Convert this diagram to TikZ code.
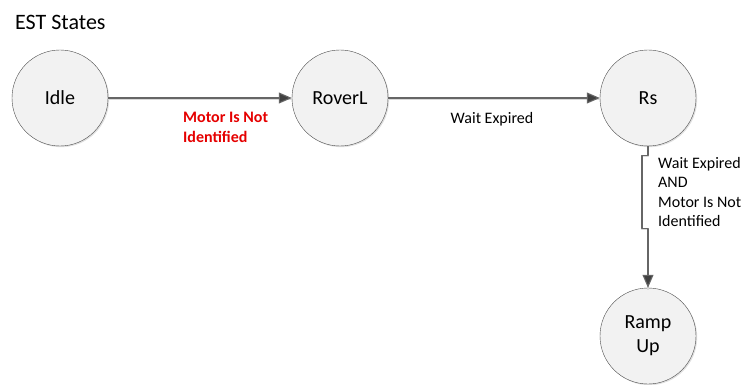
\documentclass[tikz,border=0pt]{standalone}
\usepackage{fontspec}
\setmainfont{Carlito}
\usetikzlibrary{arrows.meta,positioning,shadows}
\tikzset{
  every picture/.append style={line cap=round,line join=round},
  est state/.style={circle,draw=black!70,fill=black!5,minimum size=96pt,inner sep=0pt,
    align=center,font=\fontsize{20}{24}\selectfont,
    drop shadow={opacity=0.25,shadow xshift=1.2pt,shadow yshift=-1.2pt}},
  est move/.style={draw=black!60,line width=1.1pt,-{Triangle[length=13pt,width=11pt,fill=black!75]},
    preaction={draw=black!15,-,line width=1.1pt,transform canvas={yshift=-1.6pt}}},
  est note/.style={inner sep=0pt,align=left,font=\fontsize{16}{19.5}\selectfont},
  est alert/.style={est note,text=red!90!black,font=\fontsize{16}{20}\selectfont\bfseries}
}
\begin{document}
\begin{tikzpicture}[x=1pt,y=-1pt]
  \useasboundingbox (0,0) rectangle (745,385);
  \node[anchor=west,inner sep=0pt,font=\fontsize{22}{26}\selectfont] (title) at (15,22) {EST States};

  % states
  \node[est state] (idle) at (60,98) {Idle};
  \node[est state] (roverl) at (340,98) {RoverL};
  \node[est state] (rs) at (648,98) {Rs};
  \node[est state] (ramp) at (648,336) {Ramp\\Up};

  % transitions
  \draw[est move] (idle) -- (roverl);
  \draw[est move] (roverl) -- (rs);
  \draw[est move] (rs.south) -- ++(0,9) -- ++(-6,0) -- ++(0,73) -- ++(6,0) -- (ramp.north);

  \node[est alert,anchor=north west] (motor) at (183,112) {Motor Is Not\\Identified};
  \node[est note] (wait) at (492,119) {Wait Expired};
  \node[est note,anchor=north west] (waitand) at (658,157)
    {Wait Expired\\AND\\Motor Is Not\\Identified};
\end{tikzpicture}
\end{document}
